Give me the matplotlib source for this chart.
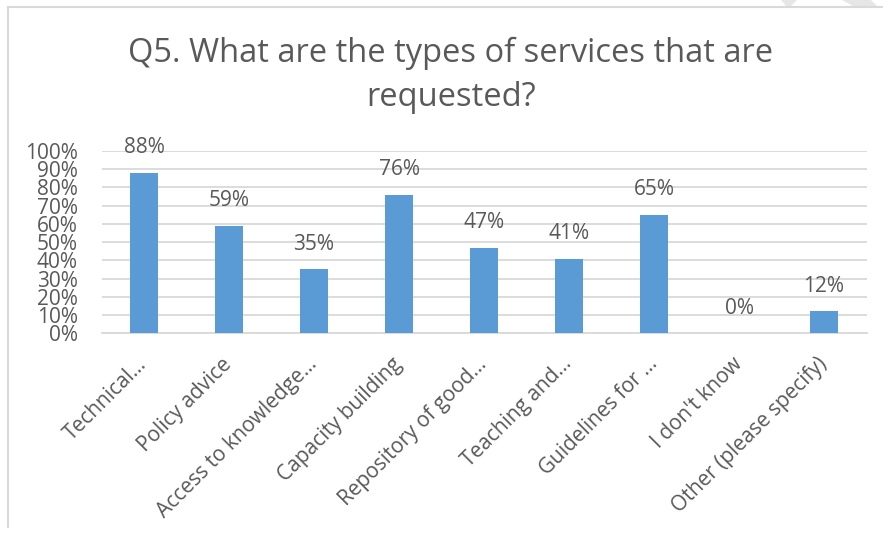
import numpy as np
import matplotlib.pyplot as plt
from matplotlib.patches import Polygon

categories = ['Technical…', 'Policy advice', 'Access to knowledge…', 'Capacity building',
              'Repository of good…', 'Teaching and…', 'Guidelines for …', "I don't know",
              'Other (please specify)']
values = [88, 59, 35, 76, 47, 41, 65, 0, 12]
y_ticks = [0, 10, 20, 30, 40, 50, 60, 70, 80, 90, 100]
title_lines = ['Q5. What are the types of services that are', 'requested?']

TEXT = '#595959'
GRID = '#D9D9D9'
BAR = '#5B9BD5'
W, H = 883, 534

plt.rcParams['font.family'] = ['Open Sans', 'DejaVu Sans']

fig = plt.figure(figsize=(W / 100, H / 100), dpi=100)
fig.patch.set_facecolor('white')

# axes placed in pixel coords of the reference
x0, x1 = 101.5, 866.5
y0, y1 = 333.3, 151.0
ax = fig.add_axes([x0 / W, 1 - y0 / H, (x1 - x0) / W, (y0 - y1) / H])

x = np.arange(len(categories))
ax.bar(x, values, width=0.32, color=BAR, zorder=3)

for xi, v in zip(x, values):
    ax.annotate(f'{v}%', (xi, v), xytext=(0, 18), textcoords='offset points',
                ha='center', va='center', fontsize=15, color=TEXT)

ax.set_xlim(-0.5, len(categories) - 0.5)
ax.set_ylim(0, 100)
ax.set_yticks(y_ticks)
ax.set_yticklabels([f'{t}%' for t in y_ticks])
ax.set_xticks(x)
ax.set_xticklabels(categories, rotation=45, ha='right', va='center',
                   rotation_mode='anchor')
ax.tick_params(axis='y', length=0, pad=17, labelsize=15, labelcolor=TEXT)
ax.tick_params(axis='x', length=0, pad=20, labelsize=15, labelcolor=TEXT)

ax.grid(axis='y', color=GRID, linewidth=1.3, zorder=0)
for s in ['top', 'right', 'left']:
    ax.spines[s].set_visible(False)
ax.spines['bottom'].set_color(GRID)
ax.spines['bottom'].set_linewidth(1.3)
ax.set_facecolor('none')

# two-line title, baselines
for line, base in zip(title_lines, [62, 106]):
    fig.text(451 / W, 1 - base / H, line, ha='center', va='baseline',
             fontsize=23.5, color=TEXT)

# chart frame (top and left edges visible)
fig.add_artist(plt.Line2D([8 / W, 1], [1 - 7 / H, 1 - 7 / H], color=GRID, lw=1.5))
fig.add_artist(plt.Line2D([8 / W, 8 / W], [1 - 7 / H, 1 - 527 / H], color=GRID, lw=1.5))

# faint watermark fragment at top right
for pts in ([(781, 0), (797, 0), (791, 6), (786, 6)],
            [(842, 0), (871, 0), (877, 6), (853, 6)]):
    fig.add_artist(Polygon([(px / W, 1 - py / H) for px, py in pts],
                           closed=True, color='#E6E6E6', lw=0, transform=fig.transFigure))

fig.savefig('out.png', dpi=100, facecolor='white')
